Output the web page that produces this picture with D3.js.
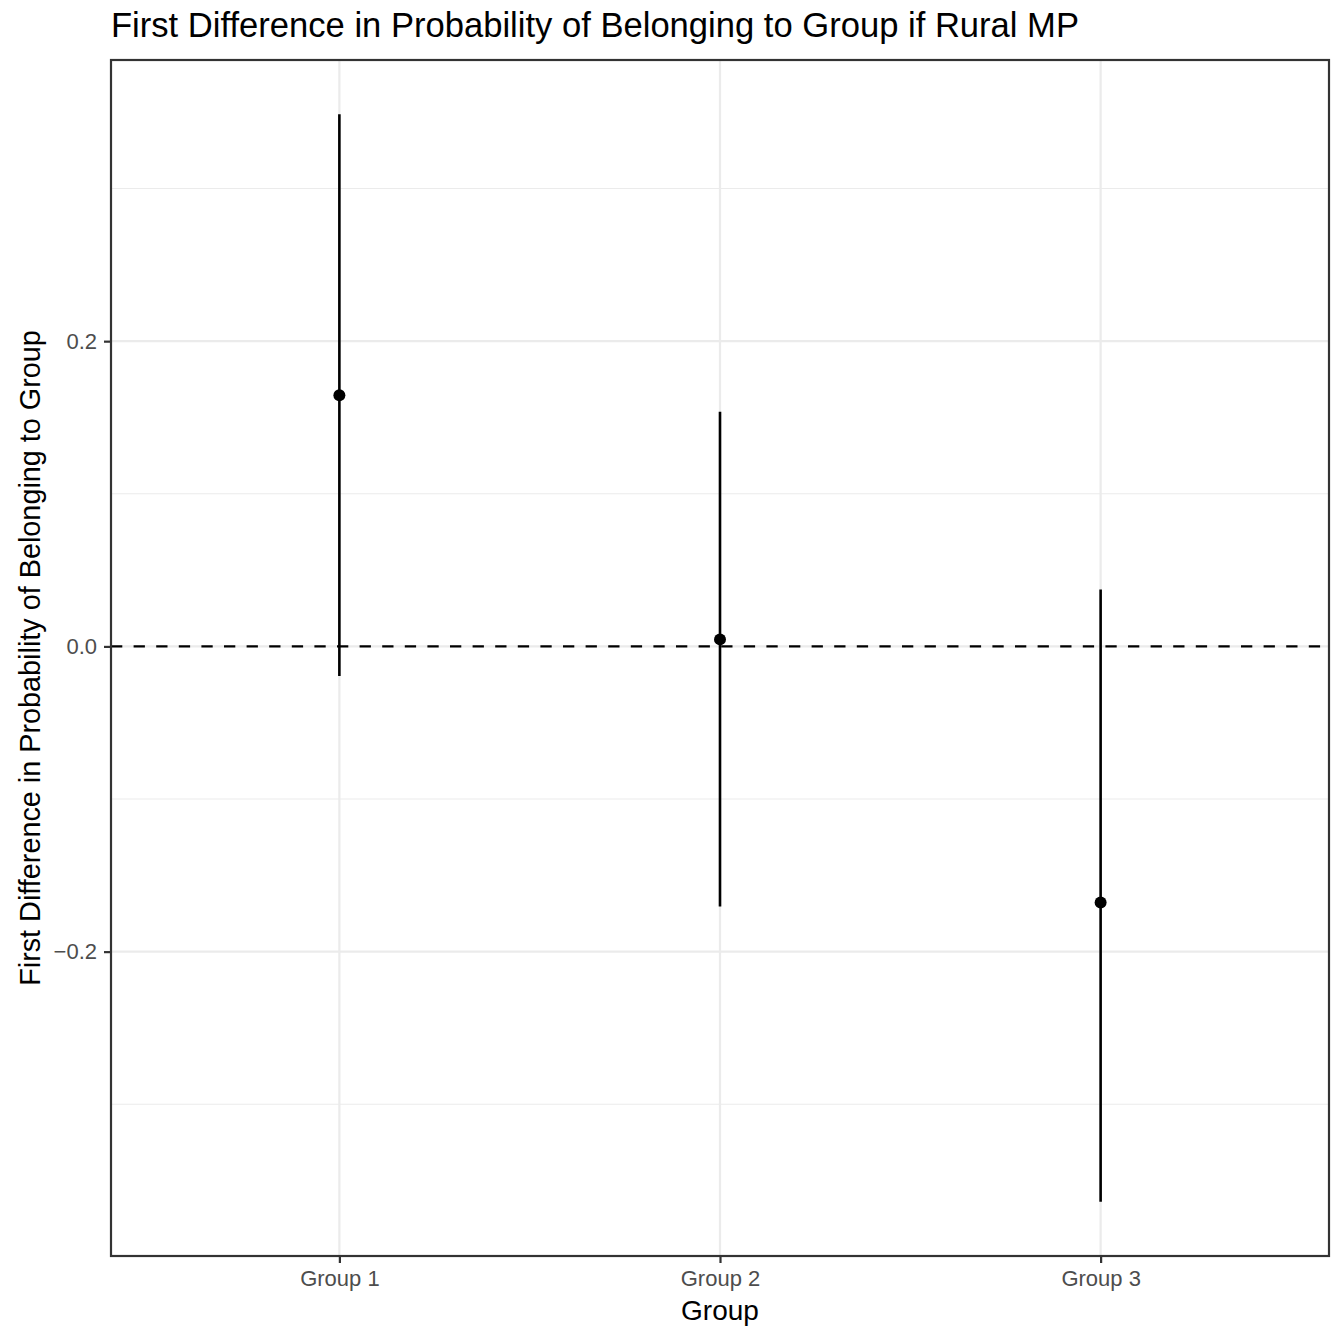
<!DOCTYPE html>
<html>
<head>
<meta charset="utf-8">
<script src="https://cdn.jsdelivr.net/npm/d3@7"></script>
<style>
  html, body { margin: 0; padding: 0; background: #fff; }
  svg text { font-family: "Liberation Sans", Arial, Helvetica, sans-serif; }
</style>
</head>
<body>
<svg id="chart" width="1338" height="1330"></svg>
<script>
// First differences with confidence intervals by group
const groups   = ["Group 1", "Group 2", "Group 3"];
const estimate = [0.1645, 0.0046, -0.1678];
const lower    = [-0.0194, -0.1704, -0.3638];
const upper    = [0.3486, 0.1538, 0.0373];
const yTicks   = [-0.2, 0.0, 0.2];
const yMinor   = [-0.3, -0.1, 0.1, 0.3];

const W = 1338, H = 1330;
const margin = { top: 60, right: 9, bottom: 74, left: 111 };
const pw = W - margin.left - margin.right;
const ph = H - margin.top - margin.bottom;

const svg = d3.select("#chart");
const g = svg.append("g").attr("transform", `translate(${margin.left},${margin.top})`);

// Discrete x scale with 0.6 padding on each side
const x = d3.scalePoint().domain(groups).range([0, pw]).padding(0.6);

// Continuous y with 5% expansion
const lo = d3.min(lower), hi = d3.max(upper);
const pad = (hi - lo) * 0.05;
const y = d3.scaleLinear().domain([lo - pad, hi + pad]).range([ph, 0]);

// Grid
g.selectAll("line.minor").data(yMinor).join("line")
  .attr("x1", 0).attr("x2", pw)
  .attr("y1", d => y(d)).attr("y2", d => y(d))
  .attr("stroke", "#ebebeb").attr("stroke-width", 1.1);
g.selectAll("line.majory").data(yTicks).join("line")
  .attr("x1", 0).attr("x2", pw)
  .attr("y1", d => y(d)).attr("y2", d => y(d))
  .attr("stroke", "#ebebeb").attr("stroke-width", 2.2);
g.selectAll("line.majorx").data(groups).join("line")
  .attr("x1", d => x(d)).attr("x2", d => x(d))
  .attr("y1", 0).attr("y2", ph)
  .attr("stroke", "#ebebeb").attr("stroke-width", 2.2);

// Zero reference line
g.append("line")
  .attr("x1", 0).attr("x2", pw)
  .attr("y1", y(0)).attr("y2", y(0))
  .attr("stroke", "#000").attr("stroke-width", 2.2)
  .attr("stroke-dasharray", "11.3,11.3");

// Error bars
const data = groups.map((grp, i) => ({ grp, est: estimate[i], lo: lower[i], hi: upper[i] }));
g.selectAll("line.err").data(data).join("line")
  .attr("x1", d => x(d.grp)).attr("x2", d => x(d.grp))
  .attr("y1", d => y(d.lo)).attr("y2", d => y(d.hi))
  .attr("stroke", "#000").attr("stroke-width", 2.6);

// Point estimates
g.selectAll("circle.pt").data(data).join("circle")
  .attr("cx", d => x(d.grp)).attr("cy", d => y(d.est))
  .attr("r", 6).attr("fill", "#000");

// Panel border
g.append("rect")
  .attr("x", 0).attr("y", 0).attr("width", pw).attr("height", ph)
  .attr("fill", "none").attr("stroke", "#333333").attr("stroke-width", 2.2);

// Axes
const xAxis = g.append("g").attr("transform", `translate(0,${ph})`)
  .call(d3.axisBottom(x).tickSize(7).tickPadding(7));
const yAxis = g.append("g")
  .call(d3.axisLeft(y).tickValues(yTicks).tickSize(7).tickPadding(7)
    .tickFormat(d => d3.format(".1f")(d).replace("-", "\u2212")));
[xAxis, yAxis].forEach(a => {
  a.select(".domain").remove();
  a.selectAll(".tick line").attr("stroke", "#333333").attr("stroke-width", 2.2);
  a.selectAll(".tick text").attr("fill", "#4d4d4d").style("font-size", "22px");
});

// Titles
svg.append("text")
  .attr("x", margin.left).attr("y", 37)
  .attr("fill", "#000").style("font-size", "34.6px")
  .text("First Difference in Probability of Belonging to Group if Rural MP");

svg.append("text")
  .attr("x", margin.left + pw / 2).attr("y", 1320)
  .attr("text-anchor", "middle").attr("fill", "#000").style("font-size", "28px")
  .text("Group");

svg.append("text")
  .attr("transform", `translate(40,${margin.top + ph / 2}) rotate(-90)`)
  .attr("text-anchor", "middle").attr("fill", "#000").style("font-size", "28.8px")
  .text("First Difference in Probability of Belonging to Group");
</script>
</body>
</html>
